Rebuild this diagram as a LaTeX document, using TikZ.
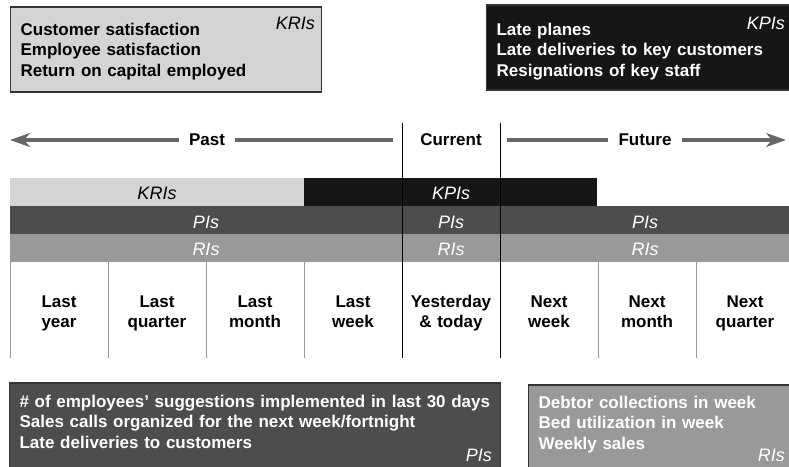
\documentclass[tikz,border=0pt]{standalone}
\usepackage{fontspec}
\setmainfont{Liberation Sans}
\usetikzlibrary{arrows.meta}
\definecolor{krigray}{HTML}{D4D4D4}
\definecolor{kpiblack}{HTML}{161616}
\definecolor{pigray}{HTML}{4D4D4D}
\definecolor{rigray}{HTML}{999999}
\definecolor{linegray}{HTML}{666666}
\definecolor{boxline}{HTML}{333333}
\begin{document}
\begin{tikzpicture}[x=1pt, y=-1pt,
  every node/.style = {inner sep=0pt, font=\fontsize{17}{20.5}\selectfont\bfseries},
  infobox/.style = {draw=boxline, line width=1.2pt, anchor=base west,
    align=left, inner xsep=10pt},
  tag/.style = {anchor=base east, font=\fontsize{18}{21}\selectfont\itshape},
  barlabel/.style = {text=white, font=\fontsize{18}{21}\selectfont\itshape},
  period/.style = {align=center, text width=96pt, anchor=base},
  timeline/.style = {draw=linegray, line width=4pt},
  timelabel/.style = {inner xsep=10pt},
  divider/.style = {draw=rigray, line width=1pt},
  nowline/.style = {draw=black, line width=1pt}]
  \useasboundingbox (0,0) rectangle (789,466);

  \node[infobox, fill=krigray, text width=291pt, text height=28pt, text depth=57pt]
    (kribox) at (10,35) {Customer satisfaction\\ Employee satisfaction\\
      Return on capital employed};
  \node[tag] (kritag) at (315,29) {KRIs};
  \node[infobox, fill=kpiblack, text=white, text width=285pt, text height=30pt,
    text depth=55pt] (kpibox) at (486,35) {Late planes\\
      Late deliveries to key customers\\ Resignations of key staff};
  \node[tag, text=white] (kpitag) at (785,29) {KPIs};

  \node[timelabel] (past) at (207,140) {Past};
  \node[timelabel] (current) at (451,140) {Current};
  \node[timelabel] (future) at (645,140) {Future};
  \coordinate (pastend) at (10,140);
  \coordinate (nowleft) at (393,140);
  \coordinate (nowright) at (507,140);
  \coordinate (futureend) at (786,140);
  \draw[timeline, -{Stealth[length=20pt, width=14pt, inset=6pt]}] (past) -- (pastend);
  \draw[timeline] (past) -- (nowleft);
  \draw[timeline] (nowright) -- (future);
  \draw[timeline, -{Stealth[length=20pt, width=14pt, inset=6pt]}] (future) -- (futureend);

  \fill[krigray] (10,178) rectangle (304,206);
  \fill[kpiblack] (304,178) rectangle (597,206);
  \fill[pigray] (10,206) rectangle (789,234);
  \fill[rigray] (10,234) rectangle (789,262);
  \node[barlabel, text=black] (krilabel) at (157,193.5) {KRIs};
  \node[barlabel] (kpilabel) at (451,193.5) {KPIs};
  \foreach \x [count=\i] in {206,451,645} {
    \node[barlabel] (pilabel\i) at (\x,222) {PIs};
    \node[barlabel] (rilabel\i) at (\x,249.5) {RIs};
  }

  \foreach \lab [count=\i from 0] in {{Last\\ year}, {Last\\ quarter}, {Last\\ month},
      {Last\\ week}, {Yesterday\\ \& today}, {Next\\ week}, {Next\\ month}, {Next\\ quarter}}
    \node[period] (period\i) at ({59+98*\i},307) {\lab};
  \foreach \x in {10,108,206,304,598,696}
    \draw[divider] (\x,262) -- (\x,358);
  \draw[nowline] (402,123) -- (402,358);
  \draw[nowline] (500,123) -- (500,358);

  \node[infobox, fill=pigray, text=white, text width=471pt, text height=24pt,
    text depth=62pt] (pibox) at (9,407) {\# of employees’ suggestions implemented in last 30 days\\
      Sales calls organized for the next week/fortnight\\ Late deliveries to customers};
  \node[tag, text=white] (pitag) at (492,461) {PIs};
  \node[infobox, fill=rigray, text=white, text width=243pt, text height=23pt,
    text depth=62pt] (ribox) at (528,408) {Debtor collections in week\\
      Bed utilization in week\\ Weekly sales};
  \node[tag, text=white] (ritag) at (785,461) {RIs};
\end{tikzpicture}
\end{document}
